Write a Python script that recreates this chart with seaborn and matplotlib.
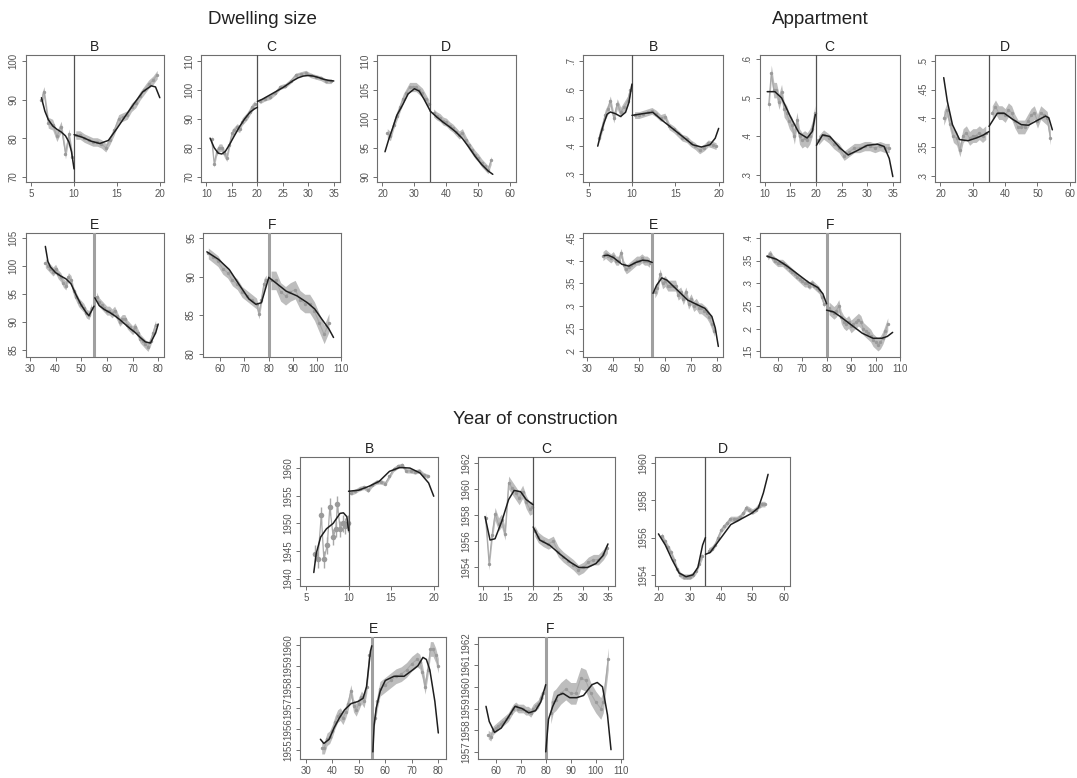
import numpy as np
import matplotlib
matplotlib.use("Agg")
import matplotlib.pyplot as plt
import seaborn as sns

sns.set_theme(style="white")
plt.rcParams['font.family'] = ['Liberation Sans', 'DejaVu Sans']

# ------------------------------------------------------------------ data
group_titles = ["Dwelling size", "Appartment", "Year of construction"]
panel_labels = ["B", "C", "D", "E", "F"]
cutoffs = [10, 20, 35, 55, 80]

# x tick values per panel letter
xt_B = [5, 10, 15, 20]
xt_C = [10, 15, 20, 25, 30, 35]
xt_D = [20, 30, 40, 50, 60]
xt_E = [30, 40, 50, 60, 70, 80]
xt_F = [60, 70, 80, 90, 100, 110]

# ---------------- Dwelling size
ds_B_bx = [6.2, 6.5, 7.0, 7.5, 8.0, 8.5, 9.0, 9.4, 9.8, 10.2, 10.7, 11.2, 11.7, 12.2, 12.7, 13.2,
           13.7, 14.2, 14.7, 15.2, 15.7, 16.2, 16.7, 17.2, 17.7, 18.2, 18.7, 19.2, 19.7]
ds_B_by = [90, 92, 84, 83.5, 80.5, 83, 76, 81, 75, 80.8, 80.8, 80, 79.5, 79, 79, 78.5,
           77.5, 79.5, 82, 85, 85.5, 86, 88, 89, 91, 92.5, 94, 95, 96.5]
ds_B_fxl = [6.2, 6.6, 7.0, 7.5, 8.0, 8.5, 9.0, 9.4, 9.7, 10.0]
ds_B_fyl = [90.5, 87, 84.8, 83.2, 82.3, 81.6, 80.6, 79, 76.5, 72]
ds_B_fxr = [10, 11, 12, 13, 14, 15, 16, 17, 18, 19, 19.5, 20]
ds_B_fyr = [80.9, 80.2, 79.2, 78.6, 79.4, 82.5, 85.8, 89, 92, 93.6, 93.3, 90.5]
ds_B_yt = [70, 80, 90, 100]

ds_C_bx = [11, 11.5, 12, 12.5, 13, 13.5, 14, 14.5, 15, 15.5, 16, 16.5, 17, 17.5, 18, 18.5, 19, 19.5,
           20.5, 21.5, 22.5, 23.5, 24.5, 25.5, 26.5, 27.5, 28.5, 29.5, 30.5, 31.5, 32.5, 33.5, 34.5]
ds_C_by = [83, 74.5, 78.5, 80, 80, 78, 76.5, 81, 85, 86, 87, 86.5, 89, 90, 91, 92.5, 94, 95,
           96, 97, 97.5, 99, 101, 101.5, 103, 105, 105.5, 106, 105, 104.5, 104, 103, 103]
ds_C_fxl = [10.7, 11.5, 12.3, 13, 13.7, 14.5, 15.5, 16.5, 17.5, 18.5, 19.3, 20]
ds_C_fyl = [83.3, 80, 78.1, 77.8, 78.7, 81, 84.2, 87.3, 90, 92.2, 93.3, 94]
ds_C_fxr = [20, 21, 22, 23, 24, 25, 26, 27, 28, 29, 30, 31, 32, 33, 34, 35]
ds_C_fyr = [96, 96.8, 97.8, 98.8, 99.8, 100.8, 102, 103.2, 104.2, 104.8, 105, 104.8, 104.3, 103.7, 103.3, 103.1]
ds_C_yt = [70, 80, 90, 100, 110]

ds_D_bx = [21.5, 22.5, 23.5, 24.5, 25.5, 26.5, 27.5, 28.5, 29.5, 30.5, 31.5, 32.5, 33.5, 34.5,
           36, 37, 38, 39, 40, 41, 42, 43, 44, 45, 46, 47, 48, 49, 50, 51, 52, 53, 54]
ds_D_by = [97.5, 97, 99, 100.5, 102, 103.5, 104.5, 105.5, 105.5, 105.5, 105, 104.5, 103.5, 102.5,
           101, 100.5, 100.2, 99.6, 99.4, 98.8, 98.4, 97.8, 97.2, 97.6, 96.4, 95.4, 94.6, 93.8, 93.2,
           92.4, 91.8, 91.2, 92.8]
ds_D_fxl = [20.8, 22, 23.2, 24.5, 26.4, 28, 30, 31.5, 33, 35]
ds_D_fyl = [94.3, 96.5, 98.4, 100.6, 102.5, 104.3, 105.2, 104.8, 103.4, 101.3]
ds_D_fxr = [35, 37, 39, 41, 43, 45, 47, 49, 51, 53, 54.5]
ds_D_fyr = [101.3, 100.3, 99.4, 98.6, 97.7, 96.6, 95.1, 93.5, 92.1, 91, 90.4]
ds_D_yt = [90, 95, 100, 105, 110]

ds_E_bx = [36, 37, 38, 39, 40, 41, 42, 43, 44, 45, 46, 47, 48, 49, 50, 51, 52, 53, 54,
           56, 57, 58, 59, 60, 61, 62, 63, 64, 65, 66, 67, 68, 69, 70, 71, 72, 73, 74, 75, 76, 77, 78, 79]
ds_E_by = [100.5, 100, 99.5, 99, 99.5, 98.5, 98, 97, 96.5, 98, 97.5, 95.5, 94.5, 93.5, 93, 92.5, 91.5, 91.2, 92.5,
           94.5, 93.5, 93, 92.5, 92, 92, 91.5, 92, 91, 90, 90.5, 90.5, 89.5, 89, 88.5, 89, 88, 87, 86.5, 86,
           85.5, 86.5, 88, 89.5]
ds_E_fxl = [36, 37, 38, 40, 42, 44, 46, 48, 50, 52, 53, 55]
ds_E_fyl = [103.5, 100.8, 99.8, 98.8, 98.2, 97.7, 96.8, 94.8, 93, 91.6, 91.1, 92.8]
ds_E_fxr = [55.3, 57, 59, 61, 63, 65, 67, 69, 71, 73, 75, 77, 79, 80]
ds_E_fyr = [94.3, 92.9, 92.2, 91.7, 91.1, 90.4, 89.6, 88.8, 88.1, 87.2, 86.4, 86.2, 88, 89.6]
ds_E_yt = [85, 90, 95, 100, 105]

ds_F_bx = [55, 57, 59, 61, 63, 65, 67, 69, 71, 73, 75, 76, 77, 78, 79,
           81, 83, 85, 87, 89, 91, 93, 95, 97, 99, 101, 103, 105]
ds_F_by = [93, 92.5, 92, 91, 90.5, 89.5, 89, 88, 87.5, 87, 86.5, 85.2, 87, 89, 89.5,
           89.5, 89.5, 88, 87.5, 88, 88.3, 87, 86.5, 86.5, 85.5, 84, 82.5, 84]
ds_F_fxl = [54.4, 59.3, 63.7, 68.1, 71.8, 74.7, 77, 78.4, 80]
ds_F_fyl = [93.2, 92.2, 90.9, 88.8, 87.1, 86.4, 86.6, 88.1, 89.8]
ds_F_fxr = [80, 82.9, 87.3, 91.7, 96.1, 99.1, 102, 105, 106.9]
ds_F_fyr = [89.9, 89.2, 88.1, 87.5, 86.6, 85.8, 84.5, 83.2, 82.1]
ds_F_yt = [80, 85, 90, 95]

# ---------------- Appartment
ap_B_bx = [6.2, 6.5, 6.9, 7.2, 7.5, 7.9, 8.3, 8.7, 9.1, 9.5, 9.8, 10.3, 10.8, 11.3, 11.8, 12.3, 12.8,
           13.3, 13.8, 14.3, 14.8, 15.3, 15.8, 16.3, 16.8, 17.3, 17.8, 18.3, 18.8, 19.3, 19.7]
ap_B_by = [.43, .46, .51, .53, .56, .50, .55, .52, .54, .56, .60, .51, .51, .515, .52, .525, .515,
           .50, .505, .47, .46, .445, .43, .425, .41, .40, .385, .395, .41, .405, .40]
ap_B_fxl = [6.05, 6.36, 6.74, 7.13, 7.5, 8.1, 8.68, 9.26, 9.65, 10]
ap_B_fyl = [.40, .44, .48, .513, .521, .515, .505, .52, .555, .62]
ap_B_fxr = [10, 11.2, 12.4, 13.5, 14.7, 15.85, 17, 18, 19, 19.6, 20]
ap_B_fyr = [.509, .515, .52, .491, .462, .434, .405, .397, .405, .428, .463]
ap_B_yt = [.3, .4, .5, .6, .7]

ap_C_bx = [10.8, 11.3, 11.8, 12.3, 12.8, 13.3, 13.8, 14.3, 14.8, 15.3, 15.8, 16.3, 16.8, 17.3, 17.8,
           18.3, 18.8, 19.3, 19.8, 20.5, 21.5, 22.5, 23.5, 24.5, 25.5, 26.5, 27.5, 28.5, 29.5, 30.5,
           31.5, 32.5, 33.5, 34.3]
ap_C_by = [.483, .565, .52, .52, .49, .515, .47, .46, .44, .43, .40, .443, .40, .39, .395,
           .39, .40, .42, .46, .39, .405, .395, .38, .37, .35, .36, .37, .37, .375, .375,
           .37, .375, .37, .37]
ap_C_fxl = [10.5, 12, 13.3, 15, 16.7, 18.3, 19.3, 19.9]
ap_C_fyl = [.516, .516, .50, .452, .409, .396, .413, .457]
ap_C_fxr = [20.1, 21.3, 22.7, 24.7, 26.3, 28, 30, 32, 33.3, 34.3, 35]
ap_C_fyr = [.377, .404, .40, .37, .352, .363, .377, .38, .374, .343, .296]
ap_C_yt = [.3, .4, .5, .6]

ap_D_bx = [21, 22, 23, 24, 25, 26, 27, 28, 29, 30, 31, 32, 33, 34,
           36, 37, 38, 39, 40, 41, 42, 43, 44, 45, 46, 47, 48, 49, 50, 51, 52, 53, 54]
ap_D_by = [.40, .415, .39, .37, .365, .345, .37, .375, .365, .37, .37, .375, .37, .375,
           .41, .42, .41, .41, .405, .415, .41, .395, .385, .385, .385, .395, .405, .41, .395,
           .41, .405, .40, .366]
ap_D_fxl = [21, 22.1, 23.7, 25.9, 28.5, 31.2, 33.3, 35]
ap_D_fyl = [.471, .43, .389, .363, .361, .366, .371, .377]
ap_D_fxr = [35, 37.6, 39.7, 42.4, 45, 47.2, 49.8, 52.5, 53.5, 54.6]
ap_D_fyr = [.386, .409, .409, .398, .389, .388, .396, .404, .401, .38]
ap_D_yt = [.3, .35, .4, .45, .5]

ap_E_bx = [36, 37, 38, 39, 40, 41, 42, 43, 44, 45, 46, 47, 48, 49, 50, 51, 52, 53, 54,
           56, 57, 58, 59, 60, 61, 62, 63, 64, 65, 66, 67, 68, 69, 70, 71, 72, 73, 74, 75, 76, 77, 78, 79]
ap_E_by = [.41, .415, .41, .405, .41, .40, .40, .417, .39, .381, .385, .39, .395, .40, .40, .405, .40, .40, .395,
           .33, .34, .37, .35, .355, .345, .345, .345, .345, .325, .33, .315, .33, .305, .315, .30, .305,
           .295, .295, .29, .285, .275, .26, .245]
ap_E_fxl = [36.4, 38, 40, 43.3, 46, 48.7, 51.3, 53.3, 55]
ap_E_fyl = [.411, .412, .407, .392, .388, .396, .401, .40, .396]
ap_E_fxr = [55.3, 56.7, 58.7, 60.7, 64.7, 68.7, 72.7, 75.3, 78, 79.3, 80.5]
ap_E_fyr = [.328, .346, .362, .357, .335, .313, .302, .295, .277, .252, .211]
ap_E_yt = [.2, .25, .3, .35, .4, .45]

ap_F_bx = [56, 57, 58, 59, 60, 61, 62, 63, 64, 65, 66, 67, 68, 69, 70, 71, 72, 73, 74, 75, 76, 77, 78, 79,
           81, 82, 83, 84, 85, 86, 87, 88, 89, 90, 91, 92, 93, 94, 95, 96, 97, 98, 99, 100, 101, 102,
           103, 104, 105]
ap_F_by = [.36, .365, .355, .35, .345, .345, .345, .34, .335, .33, .325, .32, .315, .31, .305, .30, .30,
           .295, .30, .295, .29, .285, .27, .255,
           .245, .24, .235, .24, .25, .225, .215, .21, .215, .205, .21, .215, .22, .215, .20, .195, .19,
           .185, .175, .17, .165, .17, .18, .195, .21]
ap_F_fxl = [55.6, 59.6, 63.9, 68.3, 72.7, 76.4, 78.5, 80]
ap_F_fyl = [.36, .353, .338, .32, .302, .291, .277, .255]
ap_F_fxr = [80, 82.9, 85.8, 90.2, 94.6, 99, 102.6, 104.8, 107]
ap_F_fyr = [.241, .237, .226, .208, .19, .179, .179, .183, .192]
ap_F_yt = [.15, .2, .25, .3, .35, .4]

# ---------------- Year of construction
yc_B_bx = [6.1, 6.4, 6.8, 7.1, 7.5, 7.8, 8.2, 8.5, 8.7, 9.0, 9.3, 9.6, 9.9,
           10.3, 10.8, 11.3, 11.8, 12.3, 12.8, 13.3, 13.8, 14.3, 14.8, 15.3, 15.8, 16.3, 16.8,
           17.3, 17.8, 18.3, 18.8, 19.3]
yc_B_by = [1944.5, 1943.5, 1951.5, 1943.5, 1946, 1953, 1947.5, 1949, 1953.5, 1949, 1950, 1949.5, 1950,
           1955.5, 1955.8, 1956.3, 1956.5, 1956, 1957, 1957.5, 1957.5, 1957.2, 1958.5, 1959.8, 1960.3,
           1960.5, 1959.5, 1959.5, 1959.3, 1959.5, 1958.8, 1958.5]
yc_B_fxl = [5.92, 6.2, 6.72, 7.4, 8.2, 9.0, 9.4, 9.8, 10]
yc_B_fyl = [1941.1, 1944.5, 1947.5, 1949.0, 1950, 1951.8, 1951.9, 1951.2, 1948.7]
yc_B_fxr = [10, 11.2, 12.4, 13.6, 14.8, 16, 17.2, 18.4, 19.4, 20]
yc_B_fyr = [1955.8, 1956, 1956.7, 1957.6, 1959.4, 1960.1, 1960, 1959.1, 1957.3, 1954.9]
yc_B_yt = [1940, 1945, 1950, 1955, 1960]

yc_C_bx = [10.5, 11.2, 11.8, 12.4, 13.1, 13.7, 14.4, 15.1, 15.8, 16.5, 17.2, 17.9, 18.6, 19.3, 19.8,
           20.3, 21, 22, 23, 24, 25, 26, 27, 28, 29, 30, 31, 32, 33, 34, 34.8]
yc_C_by = [1957.8, 1954.3, 1956.5, 1958.1, 1957.3, 1957.6, 1956.6, 1960.5, 1960.1, 1959.7, 1959.3,
           1959.8, 1959.0, 1958.5, 1958.6,
           1956.8, 1956.3, 1956, 1955.8, 1956, 1955.2, 1954.8, 1954.5, 1954.2, 1953.8, 1954, 1954.4,
           1954.6, 1954.6, 1955.0, 1955.5]
yc_C_fxl = [10.4, 11.4, 12.4, 13.8, 15.1, 16.2, 17.5, 18.6, 20]
yc_C_fyl = [1957.9, 1956.1, 1956.2, 1957.6, 1959.2, 1959.9, 1959.8, 1959.2, 1958.8]
yc_C_fxr = [20, 21.3, 23.3, 25.4, 27.4, 29.1, 30.8, 32.5, 33.9, 34.9]
yc_C_fyr = [1957.1, 1956.1, 1955.7, 1955.0, 1954.4, 1954.0, 1954.0, 1954.3, 1954.9, 1955.8]
yc_C_yt = [1954, 1956, 1958, 1960, 1962]

yc_D_bx = [21, 22, 23, 24, 25, 26, 27, 28, 29, 30, 31, 32, 33, 34,
           36, 37, 38, 39, 40, 41, 42, 43, 44, 45, 46, 47, 48, 49, 50, 51, 52, 53, 54]
yc_D_by = [1956.1, 1955.8, 1955.5, 1955.2, 1954.8, 1954.3, 1954, 1953.9, 1953.9, 1953.9, 1954, 1954.2,
           1954.6, 1955,
           1955.3, 1955.4, 1955.6, 1956, 1956.4, 1956.6, 1956.8, 1957, 1957, 1957, 1957.1, 1957.3,
           1957.6, 1957.5, 1957.4, 1957.5, 1957.7, 1957.8, 1957.8]
yc_D_fxl = [20, 22.2, 24.4, 26.6, 28.8, 31, 32.6, 34.1, 35]
yc_D_fyl = [1956.2, 1955.6, 1954.8, 1954.1, 1953.9, 1954, 1954.4, 1955.6, 1956.0]
yc_D_fxr = [35, 36.5, 38.7, 40.9, 43.1, 46.4, 49.7, 51.9, 53.5, 55]
yc_D_fyr = [1955.1, 1955.2, 1955.7, 1956.2, 1956.7, 1957, 1957.3, 1957.6, 1958.4, 1959.4]
yc_D_yt = [1954, 1956, 1958, 1960]

yc_E_bx = [36, 37, 38, 39, 40, 41, 42, 43, 44, 45, 46, 47, 48, 49, 50, 51, 52, 53, 54,
           56, 57, 58, 60, 62, 64, 66, 68, 70, 72, 73, 74, 75, 76, 77, 78, 79, 80]
yc_E_by = [1955.1, 1955.1, 1955.5, 1955.6, 1955.9, 1956.3, 1956.6, 1956.7, 1956.5, 1956.8, 1957.2,
           1957.8, 1957.1, 1956.9, 1957.2, 1957.5, 1957.3, 1958, 1959.5,
           1956.5, 1957.3, 1957.9, 1958.1, 1958.3, 1958.5, 1958.6, 1958.8, 1959.1, 1959.3, 1959.2,
           1958.7, 1958.0, 1958.8, 1959.8, 1959.8, 1959.5, 1959.0]
yc_E_fxl = [35.5, 36.8, 38.8, 40.7, 42.6, 44.6, 47.1, 49.7, 51.6, 52.9, 54.4, 54.9]
yc_E_fyl = [1955.5, 1955.3, 1955.5, 1956.05, 1956.5, 1956.9, 1957.2, 1957.3, 1957.45, 1958, 1959.7, 1959.95]
yc_E_fxr = [55.3, 55.8, 56.6, 58.1, 60, 63.3, 67.1, 70.3, 72.3, 74.2, 75.5, 76.8, 78.7, 80]
yc_E_fyr = [1954.9, 1956.2, 1957.0, 1957.8, 1958.3, 1958.5, 1958.5, 1958.8, 1959.0, 1959.4, 1959.3,
            1958.8, 1957.3, 1955.8]
yc_E_yt = [1955, 1956, 1957, 1958, 1959, 1960]

yc_F_bx = [57, 58, 59, 60, 61, 62, 63, 64, 65, 66, 67, 68, 69, 70, 71, 72, 73, 74, 75, 76, 77, 78, 79,
           82, 83, 84, 86, 88, 90, 92, 94, 96, 98, 100, 102, 103, 105]
yc_F_by = [1957.8, 1957.7, 1958, 1958.1, 1958.2, 1958.3, 1958.4, 1958.5, 1958.6, 1958.8, 1959, 1959.1,
           1959.0, 1959.0, 1959.0, 1958.9, 1958.9, 1958.8, 1959.0, 1959.1, 1959.2, 1959.5, 1959.7,
           1958.8, 1959.3, 1959.4, 1959.7, 1959.9, 1959.7, 1959.7, 1960.4, 1960.3, 1959.7, 1959.3,
           1959.0, 1959.3, 1961.3]
yc_F_fxl = [56.1, 57.4, 59.5, 62.2, 65, 67.7, 70.5, 73.2, 75.9, 78, 80]
yc_F_fyl = [1959.1, 1958.4, 1957.9, 1958.1, 1958.6, 1959.1, 1959.0, 1958.8, 1958.9, 1959.3, 1960.1]
yc_F_fxr = [80, 81.1, 82.8, 84.8, 86.9, 89.6, 92.4, 95.1, 98.5, 100.6, 102.7, 104.7, 106.1]
yc_F_fyr = [1957, 1958.5, 1959.1, 1959.6, 1959.7, 1959.5, 1959.5, 1959.6, 1960.1, 1960.2, 1960.0,
            1958.7, 1957.1]
yc_F_yt = [1957, 1958, 1959, 1960, 1961, 1962]

# confidence half widths (left, right of cutoff)
hw_ds = [(1.4, 1.1), (1.3, 0.8), (0.8, 0.7), (0.8, 0.8), (0.7, 1.2)]
hw_ap = [(.018, .012), (.02, .012), (.012, .012), (.01, .012), (.008, .014)]
hw_yc = [(1.5, 0.4), (0.5, 0.4), (0.15, 0.15), (0.3, 0.35), (0.2, 0.5)]

# ------------------------------------------------------------------ layout (pixels)
W, H = 1077, 778
fig = plt.figure(figsize=(W / 100, H / 100), dpi=100)

BAND = '#bdbdbd'
BLINE = '#a8a8a8'
PT = '#9a9a9a'
SPINE = '#6e6e6e'
TXT = '#555555'

def fmt(v):
    s = f"{v:g}"
    if s.startswith("0."):
        s = s[1:]
    return s

def make_ax(l, t, w, h):
    return fig.add_axes([l / W, 1 - (t + h) / H, w / W, h / H])

def draw(ax, letter, cut, bx, by, fxl, fyl, fxr, fyr, hw, xt, yt, xlim, ylim, thick, bars_left=False):
    bx = np.asarray(bx, float)
    by = np.asarray(by, float)
    for k, mask in enumerate((bx < cut, bx > cut)):
        xs, ys = bx[mask], by[mask]
        h = hw[k]
        if bars_left and k == 0:
            ax.vlines(xs, ys - h, ys + h, color=BLINE, lw=1.0, zorder=2)
            sns.lineplot(x=xs, y=ys, ax=ax, color=BLINE, lw=0.9, estimator=None, sort=False, zorder=2)
            sns.scatterplot(x=xs, y=ys, ax=ax, color=PT, s=16, linewidth=0, zorder=3)
        else:
            ax.fill_between(xs, ys - h, ys + h, color=BAND, lw=0, zorder=1)
            sns.lineplot(x=xs, y=ys, ax=ax, color=BLINE, lw=0.8, estimator=None, sort=False, zorder=2)
            sns.scatterplot(x=xs, y=ys, ax=ax, color=PT, s=6, linewidth=0, zorder=2)
    if thick:
        ax.axvline(cut, color='#a0a0a0', lw=2.2, zorder=4)
    else:
        ax.axvline(cut, color='#505050', lw=0.9, zorder=4)
    sns.lineplot(x=fxl, y=fyl, ax=ax, color='#1e1e1e', lw=1.1, estimator=None, sort=False, zorder=5)
    sns.lineplot(x=fxr, y=fyr, ax=ax, color='#1e1e1e', lw=1.1, estimator=None, sort=False, zorder=5)
    ax.set_xlim(*xlim)
    ax.set_ylim(*ylim)
    ax.set_xticks(xt)
    ax.set_xticklabels([fmt(v) for v in xt])
    ax.set_yticks(yt)
    ax.set_yticklabels([fmt(v) for v in yt], rotation=90, va='center')
    ax.tick_params(axis='both', which='both', direction='out', length=3, width=0.7,
                   color=SPINE, labelsize=7, labelcolor=TXT, pad=2,
                   bottom=True, left=True, top=False, right=False)
    for sp in ax.spines.values():
        sp.set_color(SPINE)
        sp.set_linewidth(0.8)
        sp.set_visible(True)
    ax.set_xlabel('')
    ax.set_ylabel('')
    ax.set_title(letter, fontsize=10, color='#222222', pad=3)
    ax.grid(False)
    ax.set_facecolor('white')

# panel positions (left, top, width, height) in px
pos_ds = [(25.6, 55, 138.5, 127), (201.4, 55, 139, 127), (377, 55, 138.5, 127),
          (25.6, 233, 138.5, 124), (203, 233, 138, 124)]
pos_ap = [(583, 55, 140, 127), (759.5, 55, 140, 127), (935, 55, 140, 127),
          (583, 233, 140, 124), (760, 233, 140, 124)]
pos_yc = [(300, 457, 138, 129), (478, 457, 137, 129), (655, 457, 135, 129),
          (300, 637, 146, 122), (478, 637, 145, 122)]

xticks = [xt_B, xt_C, xt_D, xt_E, xt_F]
xlims_std = [(4.35, 20.5), (9, 36.3), (18.3, 61.6), (28.3, 82.3), (52.8, 108.8)]
xlims_yc = [(4.3, 20.5), (9, 36.3), (18.9, 62.0), (27.8, 82.9), (52.9, 110.9)]

ds_data = [
    (ds_B_bx, ds_B_by, ds_B_fxl, ds_B_fyl, ds_B_fxr, ds_B_fyr, ds_B_yt, (68.6, 101.6)),
    (ds_C_bx, ds_C_by, ds_C_fxl, ds_C_fyl, ds_C_fxr, ds_C_fyr, ds_C_yt, (68.1, 112.1)),
    (ds_D_bx, ds_D_by, ds_D_fxl, ds_D_fyl, ds_D_fxr, ds_D_fyr, ds_D_yt, (89.07, 111.04)),
    (ds_E_bx, ds_E_by, ds_E_fxl, ds_E_fyl, ds_E_fxr, ds_E_fyr, ds_E_yt, (83.7, 105.9)),
    (ds_F_bx, ds_F_by, ds_F_fxl, ds_F_fyl, ds_F_fxr, ds_F_fyr, ds_F_yt, (79.57, 95.64)),
]
ap_data = [
    (ap_B_bx, ap_B_by, ap_B_fxl, ap_B_fyl, ap_B_fxr, ap_B_fyr, ap_B_yt, (0.273, 0.723)),
    (ap_C_bx, ap_C_by, ap_C_fxl, ap_C_fyl, ap_C_fxr, ap_C_fyr, ap_C_yt, (0.282, 0.611)),
    (ap_D_bx, ap_D_by, ap_D_fxl, ap_D_fyl, ap_D_fxr, ap_D_fyr, ap_D_yt, (0.289, 0.5105)),
    (ap_E_bx, ap_E_by, ap_E_fxl, ap_E_fyl, ap_E_fxr, ap_E_fyr, ap_E_yt, (0.1877, 0.4609)),
    (ap_F_bx, ap_F_by, ap_F_fxl, ap_F_fyl, ap_F_fxr, ap_F_fyr, ap_F_yt, (0.1377, 0.411)),
]
yc_data = [
    (yc_B_bx, yc_B_by, yc_B_fxl, yc_B_fyl, yc_B_fxr, yc_B_fyr, yc_B_yt, (1938.66, 1962.0)),
    (yc_C_bx, yc_C_by, yc_C_fxl, yc_C_fyl, yc_C_fxr, yc_C_fyr, yc_C_yt, (1952.58, 1962.46)),
    (yc_D_bx, yc_D_by, yc_D_fxl, yc_D_fyl, yc_D_fxr, yc_D_fyr, yc_D_yt, (1953.4, 1960.33)),
    (yc_E_bx, yc_E_by, yc_E_fxl, yc_E_fyl, yc_E_fxr, yc_E_fyr, yc_E_yt, (1954.56, 1960.37)),
    (yc_F_bx, yc_F_by, yc_F_fxl, yc_F_fyl, yc_F_fxr, yc_F_fyr, yc_F_yt, (1956.67, 1962.3)),
]

groups = [(ds_data, pos_ds, hw_ds, xlims_std), (ap_data, pos_ap, hw_ap, xlims_std),
          (yc_data, pos_yc, hw_yc, xlims_yc)]

for gi, (gdata, gpos, ghw, gxl) in enumerate(groups):
    for i in range(5):
        bx, by, fxl, fyl, fxr, fyr, yt, ylim = gdata[i]
        ax = make_ax(*gpos[i])
        draw(ax, panel_labels[i], cutoffs[i], bx, by, fxl, fyl, fxr, fyr, ghw[i],
             xticks[i], yt, gxl[i], ylim, thick=(i >= 3), bars_left=(gi == 2 and i == 0))

# group titles
title_pos = [(262, 19), (820, 19), (535, 419)]
for t, (x, y) in zip(group_titles, title_pos):
    fig.text(x / W, 1 - y / H, t, ha='center', va='center', fontsize=13.5, color='#222222')

fig.savefig("out.png", dpi=100, facecolor='white')
